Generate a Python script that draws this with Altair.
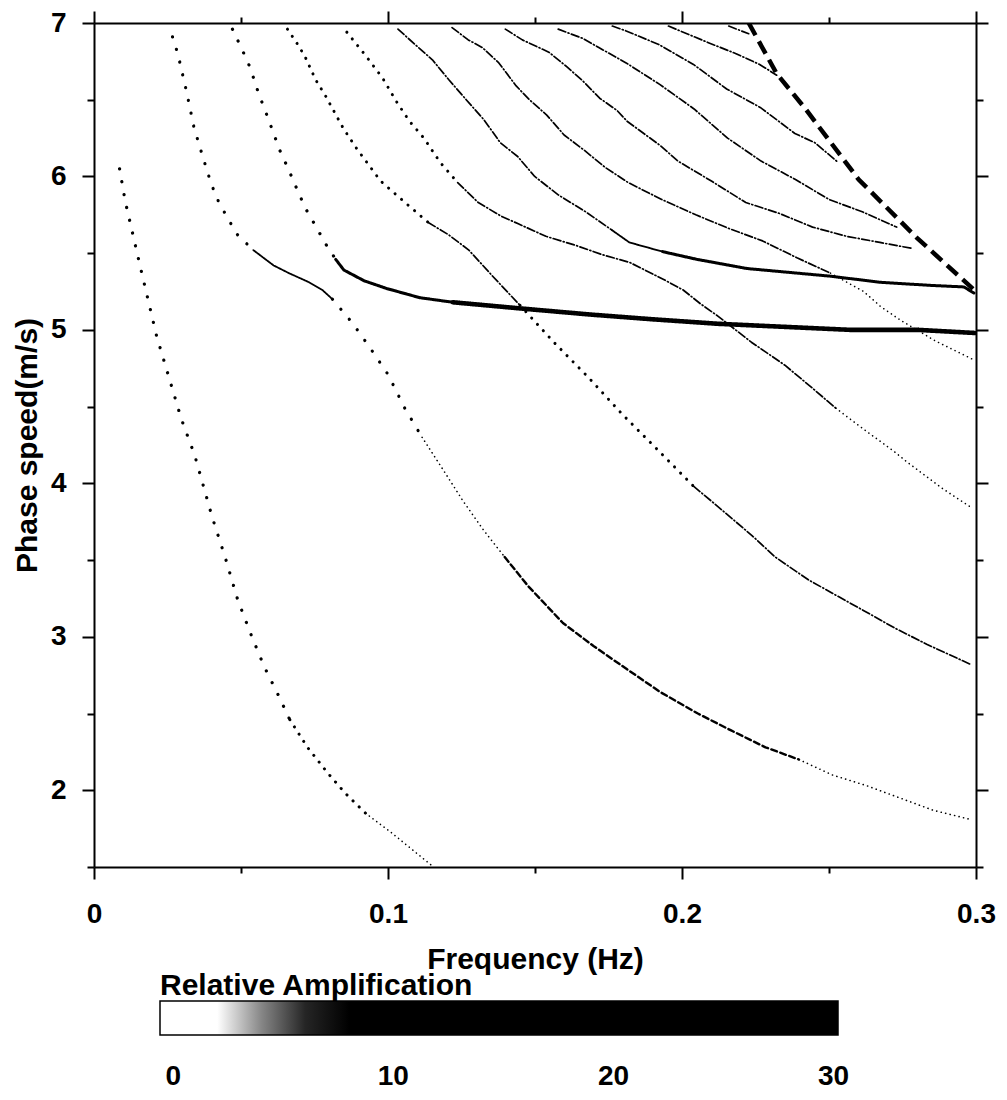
import altair as alt
import pandas as pd

# ---------------- data (frequency in Hz, phase speed) ----------------
m0_freq = [0.0087, 0.0106, 0.0154, 0.0213, 0.0297, 0.0343, 0.0402, 0.0449, 0.0489, 0.0535,
           0.0578, 0.0627, 0.0666, 0.0726, 0.0796, 0.0855, 0.0924, 0.1014, 0.1155]
m0_speed = [6.05, 5.84, 5.44, 4.96, 4.42, 4.18, 3.78, 3.50, 3.24, 3.01,
            2.81, 2.62, 2.46, 2.28, 2.11, 1.98, 1.85, 1.72, 1.50]

m1_freq = [0.0267, 0.0285, 0.0314, 0.0340, 0.0373, 0.0399, 0.0427, 0.0455, 0.0483, 0.0542,
           0.0611, 0.0663, 0.0732, 0.0777, 0.0811, 0.0881, 0.0940, 0.1000, 0.1057, 0.1116,
           0.1187, 0.1257, 0.1327, 0.1397, 0.1477, 0.1595, 0.1699, 0.1812, 0.1926, 0.2054,
           0.2167, 0.2284, 0.2398, 0.2511, 0.2628, 0.2741, 0.2854, 0.2981]
m1_speed = [6.91, 6.80, 6.56, 6.32, 6.11, 5.95, 5.82, 5.73, 5.63, 5.52,
            5.42, 5.37, 5.31, 5.26, 5.20, 5.04, 4.88, 4.71, 4.49, 4.30,
            4.09, 3.88, 3.69, 3.52, 3.33, 3.09, 2.94, 2.79, 2.64, 2.50,
            2.39, 2.28, 2.20, 2.10, 2.03, 1.95, 1.87, 1.81]

m2_freq = [0.0471, 0.0503, 0.0531, 0.0560, 0.0588, 0.0632, 0.0663, 0.0692, 0.0720, 0.0756,
           0.0788, 0.0822, 0.0850, 0.0919, 0.0995, 0.1108, 0.1221, 0.1450, 0.1689, 0.1894,
           0.2122, 0.2348, 0.2576, 0.2805, 0.2996]
m2_speed = [6.96, 6.83, 6.71, 6.54, 6.40, 6.17, 6.04, 5.91, 5.79, 5.67,
            5.56, 5.46, 5.39, 5.32, 5.27, 5.21, 5.18, 5.14, 5.10, 5.07,
            5.04, 5.02, 5.00, 5.00, 4.98]

m3_freq = [0.0658, 0.0693, 0.0718, 0.0754, 0.0789, 0.0849, 0.0894, 0.0975, 0.1058, 0.1137,
           0.1206, 0.1275, 0.1356, 0.1449, 0.1564, 0.1682, 0.1797, 0.1901, 0.2040, 0.2109,
           0.2238, 0.2317, 0.2431, 0.2628, 0.2721, 0.2834, 0.2982]
m3_speed = [6.96, 6.86, 6.78, 6.63, 6.52, 6.31, 6.18, 5.97, 5.83, 5.70,
            5.62, 5.52, 5.35, 5.16, 4.92, 4.69, 4.45, 4.25, 3.98, 3.87,
            3.66, 3.52, 3.37, 3.16, 3.06, 2.95, 2.82]

m4_freq = [0.0860, 0.0923, 0.0982, 0.1028, 0.1073, 0.1122, 0.1178, 0.1237, 0.1307, 0.1386,
           0.1445, 0.1537, 0.1640, 0.1729, 0.1822, 0.1936, 0.2004, 0.2063, 0.2122, 0.2236,
           0.2350, 0.2444, 0.2523, 0.2627, 0.2720, 0.2765, 0.2883, 0.2986]
m4_speed = [6.94, 6.79, 6.64, 6.49, 6.36, 6.25, 6.09, 5.96, 5.83, 5.74,
            5.69, 5.61, 5.55, 5.49, 5.44, 5.33, 5.26, 5.17, 5.09, 4.92,
            4.77, 4.62, 4.49, 4.34, 4.21, 4.14, 3.97, 3.84]

m5_freq = [0.1034, 0.1092, 0.1151, 0.1207, 0.1266, 0.1326, 0.1382, 0.1441, 0.1499, 0.1579,
           0.1672, 0.1762, 0.1821, 0.1934, 0.2050, 0.2221, 0.2392, 0.2505, 0.2676, 0.2847,
           0.2959, 0.2993]
m5_speed = [6.96, 6.86, 6.76, 6.63, 6.50, 6.37, 6.22, 6.13, 6.00, 5.88,
            5.77, 5.65, 5.57, 5.51, 5.46, 5.40, 5.37, 5.35, 5.31, 5.29,
            5.28, 5.24]

m6_freq = [0.1218, 0.1273, 0.1321, 0.1377, 0.1436, 0.1481, 0.1540, 0.1599, 0.1668, 0.1738,
           0.1817, 0.1931, 0.2047, 0.2161, 0.2274, 0.2391, 0.2505, 0.2618, 0.2677, 0.2746,
           0.2860, 0.2987]
m6_speed = [6.97, 6.89, 6.84, 6.74, 6.59, 6.50, 6.40, 6.27, 6.17, 6.06,
            5.96, 5.85, 5.75, 5.66, 5.58, 5.47, 5.37, 5.25, 5.15, 5.06,
            4.93, 4.81]

m7_freq = [0.1399, 0.1457, 0.1547, 0.1605, 0.1664, 0.1720, 0.1779, 0.1813, 0.1927, 0.1986,
           0.2100, 0.2217, 0.2330, 0.2444, 0.2560, 0.2673, 0.2786]
m7_speed = [6.96, 6.89, 6.81, 6.72, 6.62, 6.51, 6.43, 6.36, 6.20, 6.10,
            5.97, 5.83, 5.76, 5.67, 5.61, 5.57, 5.53]

m8_freq = [0.1579, 0.1662, 0.1717, 0.1810, 0.1924, 0.2041, 0.2155, 0.2269, 0.2386, 0.2500,
           0.2613, 0.2730]
m8_speed = [6.96, 6.90, 6.84, 6.74, 6.60, 6.44, 6.25, 6.10, 5.98, 5.85, 5.77, 5.67]

m9_freq = [0.1763, 0.1808, 0.1921, 0.2039, 0.2152, 0.2266, 0.2384, 0.2452, 0.2532]
m9_speed = [6.98, 6.95, 6.86, 6.73, 6.57, 6.45, 6.28, 6.22, 6.09]

m10_freq = [0.1954, 0.2092, 0.2184, 0.2264, 0.2322]
m10_speed = [6.98, 6.87, 6.80, 6.73, 6.66]

m11_freq = [0.2159, 0.2227]
m11_speed = [6.98, 6.93]

cutoff_freq = [0.2227, 0.2322, 0.2416, 0.2601, 0.2799, 0.2994]
cutoff_speed = [7.00, 6.67, 6.45, 5.98, 5.60, 5.26]

# axis ticks and colour-bar
x_ticks = [0, 0.05, 0.1, 0.15, 0.2, 0.25, 0.3]
y_ticks = [1.5, 2, 2.5, 3, 3.5, 4, 4.5, 5, 5.5, 6, 6.5, 7]
amp_labels = [0, 10, 20, 30]
amp_stops = [-0.6, 2.3, 3.5, 5.0, 8.0, 30.2]
amp_colors = ["#ffffff", "#ffffff", "#b4b4b4", "#353535", "#000000", "#000000"]

# appearance of each piece of every curve: (first index, last index, style)
pieces = {
    "m0": (m0_freq, m0_speed, [(0, 12, "sparse"), (12, 16, "dots"), (16, 18, "fine")]),
    "m1": (m1_freq, m1_speed, [(0, 9, "sparse"), (9, 14, "solid"), (14, 19, "sparse"),
                               (19, 23, "fine"), (23, 32, "heavy"), (32, 37, "fine")]),
    "m2": (m2_freq, m2_speed, [(0, 11, "sparse"), (11, 16, "thick"), (16, 24, "thicker")]),
    "m3": (m3_freq, m3_speed, [(0, 9, "dots"), (9, 13, "dash"), (13, 18, "dots"), (18, 26, "dash")]),
    "m4": (m4_freq, m4_speed, [(0, 7, "dots"), (7, 22, "dash"), (22, 27, "fine")]),
    "m5": (m5_freq, m5_speed, [(0, 11, "dash"), (11, 13, "solid"), (13, 21, "thick")]),
    "m6": (m6_freq, m6_speed, [(0, 16, "dash"), (16, 21, "fine")]),
    "m7": (m7_freq, m7_speed, [(0, 16, "dash")]),
    "m8": (m8_freq, m8_speed, [(0, 11, "dash")]),
    "m9": (m9_freq, m9_speed, [(0, 8, "dash")]),
    "m10": (m10_freq, m10_speed, [(0, 4, "dash")]),
    "m11": (m11_freq, m11_speed, [(0, 1, "dash")]),
}

rows = []
for name, (fs, vs, segs) in pieces.items():
    for k, (a, b, style) in enumerate(segs):
        for i in range(a, b + 1):
            rows.append({"seg": f"{name}_{k}", "idx": i, "f": fs[i], "v": vs[i], "style": style})
curves_df = pd.DataFrame(rows)
cutoff_df = pd.DataFrame({"f": cutoff_freq, "v": cutoff_speed, "idx": list(range(len(cutoff_freq)))})
amp_df = pd.DataFrame({"amp": amp_labels})

styles = ["sparse", "dots", "fine", "dash", "heavy", "solid", "thick", "thicker"]
dash_patterns = [[0.1, 13], [0.1, 8.5], [0.1, 4.5], [8, 2.5, 1, 2.5], [6, 3.5], [1, 0], [1, 0], [1, 0]]
widths = [3.2, 3.0, 1.6, 1.7, 2.4, 1.8, 3.0, 4.6]

FONT = "Liberation Sans"
x_major = "abs(datum.value*10 - round(datum.value*10)) < 0.000001"
y_major = "datum.value % 1 === 0"

common = dict(domainColor="black", domainWidth=2, tickColor="black", tickWidth=2, grid=False,
              labelFont=FONT, labelFontSize=28, labelFontWeight="bold", labelColor="black",
              titleFont=FONT, titleFontSize=30, titleFontWeight="bold", titleColor="black",
              labelOverlap=False, labelFlush=False)

axis_bottom = alt.Axis(orient="bottom", values=x_ticks,
                       tickSize={"condition": {"test": x_major, "value": 12}, "value": 6},
                       labelExpr="datum.value == 0 ? '0' : (" + x_major + " ? format(datum.value, '.1f') : '')",
                       labelPadding=21, title="Frequency (Hz)", titlePadding=16, **common)
axis_left = alt.Axis(orient="left", values=y_ticks,
                     tickSize={"condition": {"test": y_major, "value": 12}, "value": 7},
                     labelExpr=y_major + " ? format(datum.value, 'd') : ''",
                     labelPadding=16, title="Phase speed(m/s)", titlePadding=8, **common)
axis_top = alt.Axis(orient="top", values=x_ticks, labels=False, title="",
                    tickSize={"condition": {"test": x_major, "value": 12}, "value": 6}, **common)
axis_right = alt.Axis(orient="right", values=y_ticks, labels=False, title="",
                      tickSize={"condition": {"test": y_major, "value": 12}, "value": 7}, **common)

xscale = alt.Scale(domain=[0, 0.3], nice=False, zero=False)
yscale = alt.Scale(domain=[1.5, 7], nice=False, zero=False)

curves = alt.Chart(curves_df).mark_line(color="black", strokeCap="round", strokeJoin="round", clip=True).encode(
    x=alt.X("f:Q", scale=xscale, axis=axis_bottom),
    y=alt.Y("v:Q", scale=yscale, axis=axis_left),
    detail="seg:N",
    order="idx:Q",
    strokeDash=alt.StrokeDash("style:N", scale=alt.Scale(domain=styles, range=dash_patterns), legend=None),
    strokeWidth=alt.StrokeWidth("style:N", scale=alt.Scale(type="ordinal", domain=styles, range=widths), legend=None),
)

cutoff = alt.Chart(cutoff_df).mark_line(color="black", strokeWidth=4.5, strokeDash=[14, 7], clip=True).encode(
    x=alt.X("f:Q", scale=xscale, axis=axis_top),
    y=alt.Y("v:Q", scale=yscale, axis=axis_right),
    order="idx:Q",
)

colorbar = alt.Chart(amp_df).mark_point(opacity=0).encode(
    x=alt.value(0),
    y=alt.value(0),
    color=alt.Color("amp:Q",
                    scale=alt.Scale(type="linear", domain=amp_stops, range=amp_colors),
                    legend=alt.Legend(orient="none", legendX=66, legendY=948, direction="horizontal",
                                      title="Relative Amplification", titleFont=FONT, titleFontSize=30,
                                      titleFontWeight="bold", titleColor="black", titleLimit=800,
                                      titlePadding=0, titleAnchor="start", padding=0,
                                      gradientLength=678, gradientThickness=34,
                                      gradientStrokeColor="black", gradientStrokeWidth=1.5,
                                      values=amp_labels, labelFont=FONT, labelFontSize=28,
                                      labelFontWeight="bold", labelColor="black", labelOffset=28,
                                      labelAlign="center")),
)

chart = alt.layer(curves, cutoff, colorbar).resolve_axis(x="independent", y="independent").properties(
    width=882, height=844,
    autosize=alt.AutoSizeParams(type="none"),
    padding={"left": 94, "top": 23, "right": 31, "bottom": 233},
    background="white",
).configure_view(strokeWidth=0)

chart.save("out.html", embed_options={"renderer": "svg", "actions": False})
